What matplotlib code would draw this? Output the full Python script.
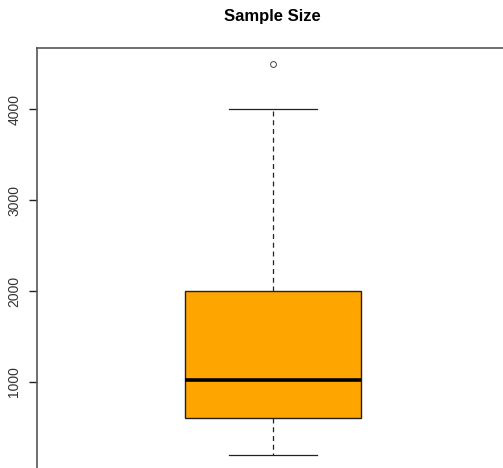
import matplotlib
matplotlib.use("Agg")
import matplotlib.pyplot as plt

# Data (five-number summary + outlier)
title = "Sample Size"
q1 = 600
median = 1025
q3 = 2000
whisker_low = 200
whisker_high = 4000
outliers = [4500]
y_ticks = [1000, 2000, 3000, 4000]
y_tick_labels = ["1000", "2000", "3000", "4000"]

plt.rcParams['font.family'] = ['Liberation Sans', 'DejaVu Sans']

W, H = 503, 468
fig = plt.figure(figsize=(W / 100, H / 100), dpi=100)

# axes in pixel terms (extends beyond right/bottom like the cropped original)
left_px, top_px, right_px, bottom_px = 37, 48, 540, 480
ax = fig.add_axes([left_px / W, 1 - bottom_px / H,
                   (right_px - left_px) / W, (bottom_px - top_px) / H])

stats = [dict(q1=q1, med=median, q3=q3, whislo=whisker_low,
              whishi=whisker_high, fliers=outliers)]
ax.bxp(stats, positions=[1], widths=[0.8], capwidths=[0.4],
       patch_artist=True, showfliers=True,
       boxprops=dict(facecolor='#FFA500', edgecolor='#222222', linewidth=1.0),
       medianprops=dict(color='black', linewidth=2.6, solid_capstyle='butt'),
       whiskerprops=dict(color='#222222', linewidth=0.9, linestyle=(0, (4, 3))),
       capprops=dict(color='#222222', linewidth=0.9),
       flierprops=dict(marker='o', markerfacecolor='none', markeredgecolor='#444444',
                       markersize=4.2, markeredgewidth=0.7))

ax.set_xlim(-0.0764, 2.2178)
ax.set_ylim(-79, 4677)
ax.set_xticks([])
ax.set_yticks(y_ticks)
ax.set_yticklabels(y_tick_labels, rotation=90, va='center', fontsize=10, color='#333333')
ax.tick_params(axis='y', length=5.8, width=1.0, color='#222222', pad=5.5)

for s in ['right', 'bottom']:
    ax.spines[s].set_visible(False)
for s in ['left', 'top']:
    ax.spines[s].set_color('#555555')
    ax.spines[s].set_linewidth(1.2)

fig.text(272 / W, 1 - 16.5 / H, title, ha='center', va='center',
         fontsize=12, fontweight='bold')

fig.savefig("out.png", dpi=100)
